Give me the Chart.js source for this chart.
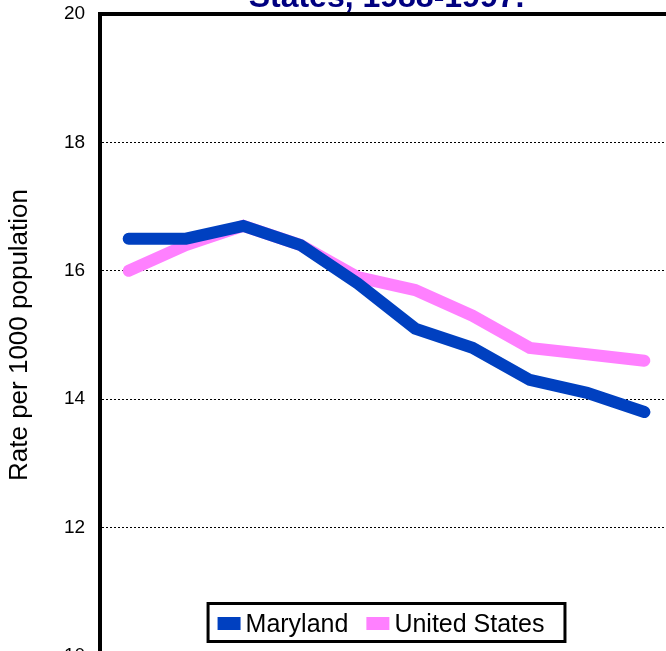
<!DOCTYPE html>
<html>
<head>
<meta charset="utf-8">
<script src="https://cdn.jsdelivr.net/npm/chart.js@4.4.1/dist/chart.umd.min.js"></script>
<style>
  html, body { margin: 0; padding: 0; background: #fff; }
  #frame { position: relative; width: 666px; height: 651px; overflow: hidden; }
  #holder { position: absolute; left: 0; top: -40px; width: 700px; height: 740px; }
</style>
</head>
<body>
<div id="frame"><div id="holder"><canvas id="rateChart"></canvas></div></div>
<script>
// data
const years = ['1988', '1989', '1990', '1991', '1992', '1993', '1994', '1995', '1996', '1997'];
const maryland = [16.5, 16.5, 16.7, 16.4, 15.8, 15.1, 14.8, 14.3, 14.1, 13.8];
const unitedStates = [16.0, 16.4, 16.7, 16.4, 15.9, 15.7, 15.3, 14.8, 14.7, 14.6];
const yTicks = [10, 12, 14, 16, 18, 20];

const FONT = '"Liberation Sans", Arial, sans-serif';

// black line along the top of the plot area
const plotFrame = {
    id: 'plotFrame',
    beforeDatasetsDraw(chart) {
        const { ctx, chartArea: a } = chart;
        ctx.save();
        ctx.fillStyle = '#000';
        ctx.fillRect(a.left - 2, a.top - 2, a.right - a.left + 4, 4);
        ctx.restore();
    }
};

// boxed legend sitting inside the bottom of the plot area
const boxLegend = {
    id: 'boxLegend',
    afterDraw(chart) {
        const { ctx, chartArea: a } = chart;
        ctx.save();
        ctx.font = '25px ' + FONT;
        const items = chart.data.datasets.map(ds => ({
            text: ds.label,
            color: ds.borderColor,
            w: ctx.measureText(ds.label).width
        }));
        const swW = 23, swH = 13, gap = 5, itemGap = 18, padL = 11, padR = 22, boxH = 41;
        const contentW = items.reduce((s, it) => s + swW + gap + it.w, 0) + itemGap * (items.length - 1);
        const boxW = contentW + padL + padR;
        const bx = (a.left + a.right) / 2 - boxW / 2;
        const by = a.bottom - 13 - boxH;
        ctx.fillStyle = '#fff';
        ctx.fillRect(bx, by, boxW, boxH);
        ctx.lineWidth = 3;
        ctx.strokeStyle = '#000';
        ctx.strokeRect(bx + 1.5, by + 1.5, boxW - 3, boxH - 3);
        let x = bx + padL;
        ctx.textBaseline = 'alphabetic';
        ctx.textAlign = 'left';
        items.forEach(it => {
            ctx.fillStyle = it.color;
            ctx.fillRect(x, by + 15, swW, swH);
            x += swW + gap;
            ctx.fillStyle = '#000';
            ctx.fillText(it.text, x, by + 29.5);
            x += it.w + itemGap;
        });
        ctx.restore();
    }
};

const ctx = document.getElementById('rateChart').getContext('2d');
new Chart(ctx, {
    type: 'line',
    data: {
        labels: years,
        datasets: [{
            label: 'Maryland',
            data: maryland,
            borderColor: '#0040C0',
            backgroundColor: '#0040C0',
            borderWidth: 12,
            borderCapStyle: 'round',
            pointRadius: 0,
            tension: 0,
            fill: false
        }, {
            label: 'United States',
            data: unitedStates,
            borderColor: '#FF80FF',
            backgroundColor: '#FF80FF',
            borderWidth: 12,
            borderCapStyle: 'round',
            pointRadius: 0,
            tension: 0,
            fill: false
        }]
    },
    options: {
        responsive: true,
        maintainAspectRatio: false,
        animation: false,
        layout: { padding: { top: 22, right: 27, bottom: 4, left: 0 } },
        plugins: {
            legend: { display: false },
            tooltip: { enabled: false },
            title: {
                display: true,
                text: 'States, 1988-1997.',
                color: '#000080',
                fullSize: false,
                font: { family: FONT, size: 32, weight: 'bold', lineHeight: 1 },
                padding: { top: 0, bottom: 0 }
            }
        },
        scales: {
            x: {
                offset: true,
                grid: { display: false, drawTicks: false },
                border: { display: true, color: '#000', width: 4 },
                ticks: { color: '#000', padding: 8, font: { family: FONT, size: 20 } }
            },
            y: {
                min: 10,
                max: 20,
                afterBuildTicks: scale => { scale.ticks = yTicks.map(v => ({ value: v })); },
                grid: {
                    drawTicks: false,
                    lineWidth: 1,
                    color: c => (c.tick && (c.tick.value === 10 || c.tick.value === 20)) ? 'rgba(0,0,0,0)' : '#000'
                },
                border: { display: true, color: '#000', width: 4, dash: [2, 2] },
                ticks: { color: '#000', padding: 15, font: { family: FONT, size: 19 } },
                title: {
                    display: true,
                    text: 'Rate per 1000 population',
                    color: '#000',
                    font: { family: FONT, size: 26 },
                    padding: { top: 4, bottom: 13.7 }
                }
            }
        }
    },
    plugins: [plotFrame, boxLegend]
});
</script>
</body>
</html>
